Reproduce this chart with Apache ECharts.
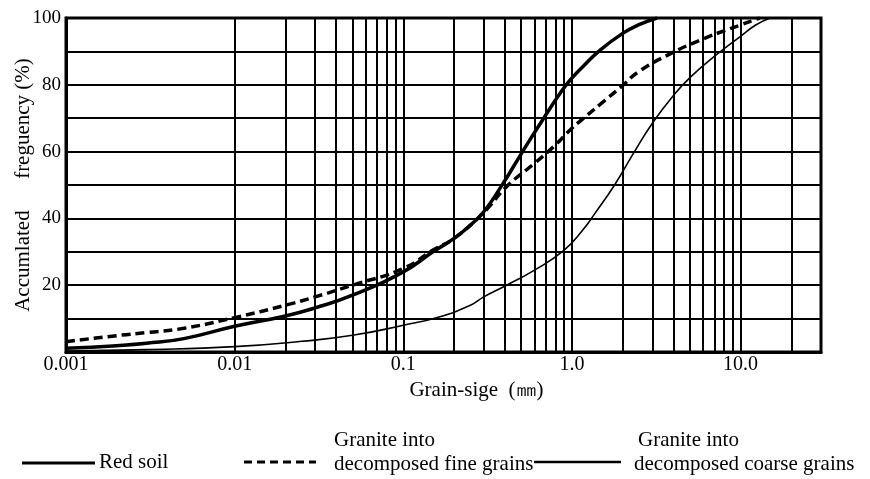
<!DOCTYPE html>
<html>
<head>
<meta charset="utf-8">
<script src="https://cdn.jsdelivr.net/npm/echarts@6/dist/echarts.min.js"></script>
<style>html,body{margin:0;padding:0;background:#fff;}#c{width:870px;height:479px;}</style>
</head>
<body>
<div id="c"></div>
<script>
// Grain size (mm) and accumulated frequency (%)
var redSoilX = [0.001, 0.002, 0.003, 0.005, 0.01, 0.02, 0.03, 0.05, 0.1, 0.15, 0.2, 0.25, 0.3, 0.38, 0.51, 0.68, 0.88, 1.0, 1.16, 1.47, 2.0, 2.5, 3.2];
var redSoilY = [1.1, 1.9, 2.6, 4.0, 7.7, 10.8, 13.2, 17.0, 24, 30, 34, 38, 42, 49.5, 60, 70, 78.5, 82, 85.4, 90.4, 95.4, 98, 100];

var fineX = [0.001, 0.002, 0.003, 0.005, 0.01, 0.02, 0.03, 0.05, 0.1, 0.15, 0.2, 0.3, 0.41, 0.6, 0.78, 1.0, 1.16, 1.5, 2.0, 2.5, 3.9, 5.8, 8.2, 10, 12, 13];
var fineY = [3.1, 4.9, 5.8, 7.1, 10.3, 14, 16.5, 20, 25, 30.5, 34, 41.8, 49.5, 56.5, 61.5, 67, 69.8, 74.5, 79.8, 84, 89.5, 93.4, 96.4, 97.9, 99.4, 100];

var coarseX = [0.001, 0.003, 0.01, 0.025, 0.05, 0.1, 0.163, 0.25, 0.3, 0.41, 0.6, 0.9, 1.16, 1.37, 1.79, 2.35, 3.0, 4.0, 5.1, 7.2, 10, 12.3, 15];
var coarseY = [0.3, 0.7, 1.6, 3.2, 5.0, 8.0, 10.5, 14, 16.5, 20, 24.5, 30.5, 36.5, 41.5, 50, 60, 68.5, 76.8, 82.5, 89, 94.5, 97.9, 100];

var decadeTicks = {0.001: '0.001', 0.01: '0.01', 0.1: '0.1', 1: '1.0', 10: '10.0'};
var minorGridX = [0.002,0.003,0.004,0.005,0.006,0.007,0.008,0.009,
                  0.02,0.03,0.04,0.05,0.06,0.07,0.08,0.09,
                  0.2,0.3,0.4,0.5,0.6,0.7,0.8,0.9,
                  2,3,4,5,6,7,8,9,20];
var yLabels = [20, 40, 60, 80, 100];

var legendNames = ['Red soil', 'Granite into\ndecomposed fine grains', 'Granite into\ndecomposed coarse grains'];

function pairs(xs, ys) { return xs.map(function (x, i) { return [x, ys[i]]; }); }

var serif = '"Liberation Serif", "Times New Roman", serif';
var chart = echarts.init(document.getElementById('c'), null, {renderer: 'canvas'});
chart.setOption({
  animation: false,
  backgroundColor: '#fff',
  grid: {left: 66, right: 49, top: 18, bottom: 127, containLabel: false, outerBoundsMode: 'none',
         show: true, borderColor: '#000', borderWidth: 3, backgroundColor: 'transparent'},
  xAxis: {
    type: 'log', logBase: 10, min: 0.001, max: 30,
    axisLine: {show: true, lineStyle: {color: '#000', width: 3}},
    axisTick: {show: false},
    splitLine: {show: true, lineStyle: {color: '#000', width: 2}},
    axisLabel: {
      color: '#000', fontFamily: serif, fontSize: 20, margin: 3,
      formatter: function (v) { var k = Object.keys(decadeTicks).find(function (d) { return Math.abs(Number(d) - v) / v < 1e-6; }); return k ? decadeTicks[k] : ''; }
    },
    name: 'Grain-sige  (㎜)', nameLocation: 'middle', nameGap: 19,
    nameTextStyle: {color: '#000', fontFamily: serif, fontSize: 21, padding: [0, 0, 0, 66]}
  },
  yAxis: {
    type: 'value', min: 0, max: 100, interval: 10,
    axisLine: {show: true, lineStyle: {color: '#000', width: 3}},
    axisTick: {show: false},
    splitLine: {show: true, lineStyle: {color: '#000', width: 2}},
    axisLabel: {
      color: '#000', fontFamily: serif, fontSize: 19, margin: 5,
      formatter: function (v) { return yLabels.indexOf(v) >= 0 ? String(v) : ''; }
    },
    name: 'Accumlated      freguency (%)', nameLocation: 'middle', nameGap: 32, nameMoveOverlap: false,
    nameTextStyle: {color: '#000', fontFamily: serif, fontSize: 21}
  },
  series: [
    {
      type: 'line', name: 'grid', data: [], z: 1, silent: true,
      markLine: {
        silent: true, symbol: ['none', 'none'], animation: false,
        label: {show: false},
        lineStyle: {type: 'solid', color: '#000', width: 2},
        data: minorGridX.map(function (v) { return {xAxis: v}; })
      }
    },
    {
      type: 'line', name: legendNames[0], data: pairs(redSoilX, redSoilY), z: 5,
      smooth: 0.5, showSymbol: false, symbol: 'none',
      lineStyle: {color: '#000', width: 3.5}
    },
    {
      type: 'line', name: legendNames[1], data: pairs(fineX, fineY), z: 5,
      smooth: 0.5, showSymbol: false, symbol: 'none',
      lineStyle: {color: '#000', width: 3.5, type: [9, 5]}
    },
    {
      type: 'line', name: legendNames[2], data: pairs(coarseX, coarseY), z: 5,
      smooth: 0.5, showSymbol: false, symbol: 'none',
      lineStyle: {color: '#000', width: 1.6}
    }
  ],
  graphic: [
    {type: 'line', shape: {x1: 22, y1: 463, x2: 95, y2: 463}, style: {stroke: '#000', lineWidth: 3}},
    {type: 'text', left: 99, top: 452, style: {text: 'Red soil', font: '21px ' + serif, fill: '#000'}},
    {type: 'line', shape: {x1: 244, y1: 462, x2: 316, y2: 462}, style: {stroke: '#000', lineWidth: 3, lineDash: [8, 5]}},
    {type: 'text', left: 334, top: 430, style: {text: 'Granite into', font: '21px ' + serif, fill: '#000'}},
    {type: 'text', left: 334, top: 454, style: {text: 'decomposed fine grains', font: '21px ' + serif, fill: '#000'}},
    {type: 'line', shape: {x1: 534, y1: 462, x2: 621, y2: 462}, style: {stroke: '#000', lineWidth: 2.5}},
    {type: 'text', left: 638, top: 430, style: {text: 'Granite into', font: '21px ' + serif, fill: '#000'}},
    {type: 'text', left: 634, top: 454, style: {text: 'decomposed coarse grains', font: '21px ' + serif, fill: '#000'}}
  ]
});
</script>
</body>
</html>
